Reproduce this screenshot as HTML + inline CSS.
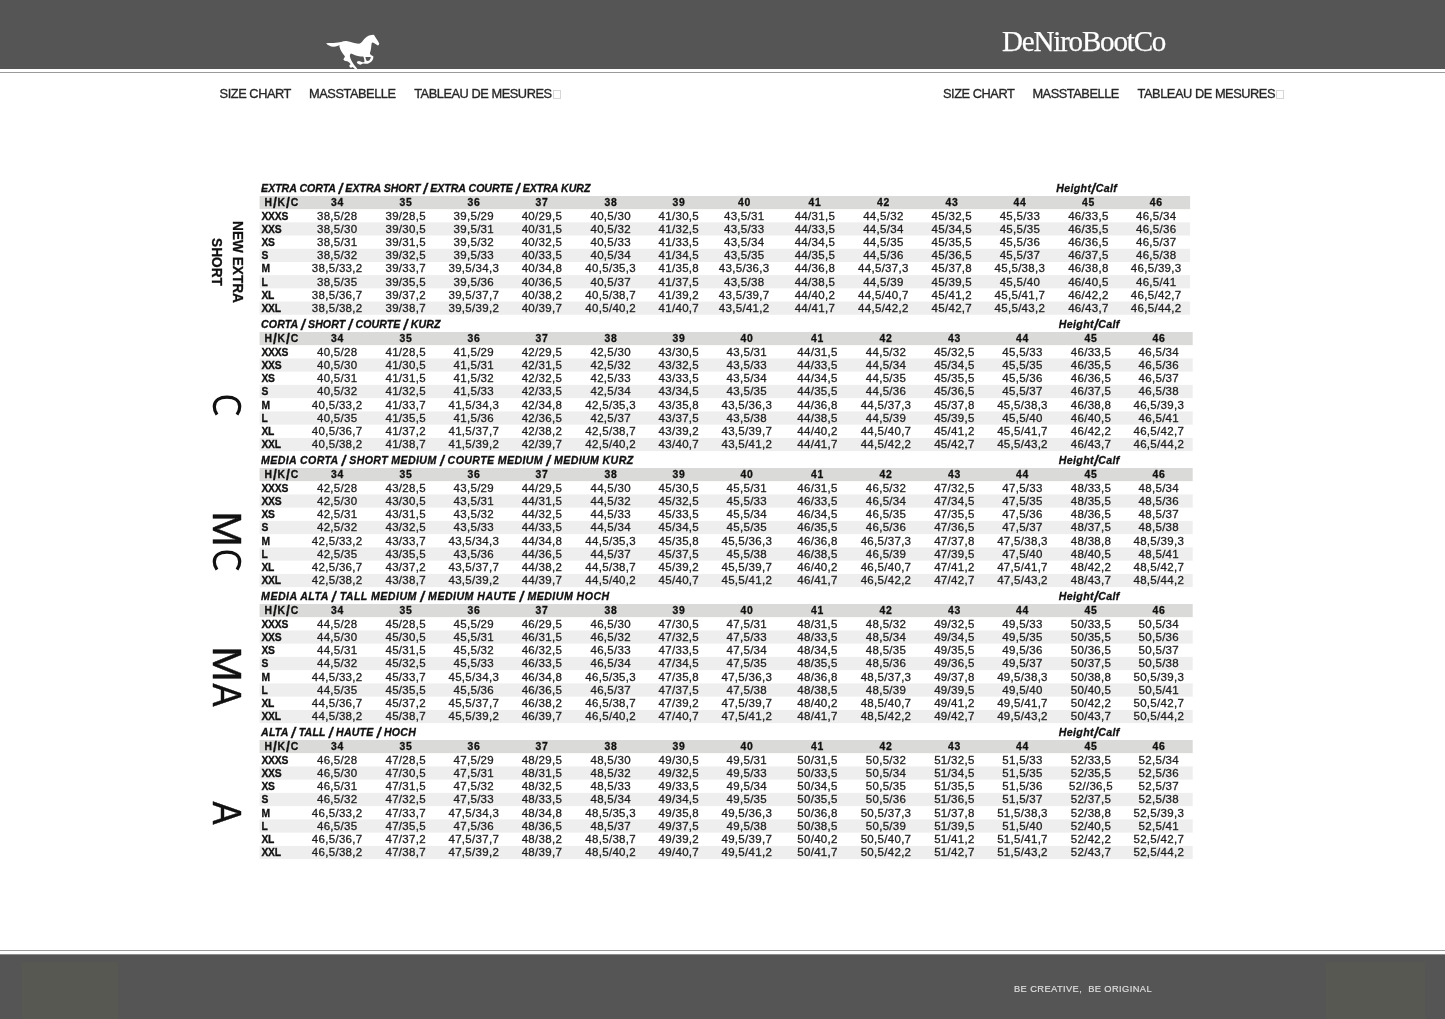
<!DOCTYPE html>
<html lang="en"><head><meta charset="utf-8"><title>DeNiroBootCo - Size Chart</title>
<style>html,body{margin:0;padding:0;background:#fff;}
body{width:1445px;height:1019px;position:relative;overflow:hidden;font-family:"Liberation Sans", sans-serif;color:#1c1c1c;}
.abs,.c,.h,.r,.t,.hc,.hk,.bg{position:absolute;white-space:nowrap;}
.top{left:0;top:0;width:1445px;height:69px;background:#555555;}
.ln{left:0;width:1445px;height:1px;background:#9a9a9a;}
.bot{left:0;top:955px;width:1445px;height:64px;background:#555555;}
.nav{top:86px;font-size:12.8px;line-height:16px;color:#262626;-webkit-text-stroke:.32px #262626;}
.bg{left:259.6px;}
.hb{background:#dadad8;}
.sb{background:#eeeeee;}
.c{width:70px;text-align:center;font-size:11.5px;line-height:13px;letter-spacing:.3px;color:#1e1e1e;-webkit-text-stroke:.3px #1e1e1e;}
.h{width:70px;text-align:center;font-size:10.4px;line-height:13px;font-weight:bold;letter-spacing:.7px;color:#111;-webkit-text-stroke:.3px #111;}
.hk{font-size:10.4px;line-height:13px;font-weight:bold;letter-spacing:.8px;color:#111;-webkit-text-stroke:.3px #111;}
.r{left:261.4px;font-size:10.3px;line-height:13px;font-weight:bold;color:#111;letter-spacing:-.15px;-webkit-text-stroke:.3px #111;}
.t,.hc{font-size:10.6px;line-height:13px;font-weight:bold;font-style:italic;color:#111;-webkit-text-stroke:.3px #111;}
.sl{font-size:135%;position:relative;top:2.4px;line-height:0;font-style:inherit}
.rot{position:absolute;white-space:nowrap;transform-origin:0 0;color:#111;}
</style></head><body><div id="pg" style="position:absolute;left:0;top:0;width:1445px;height:1019px;will-change:transform">
<div class="abs top"></div>
<div class="abs ln" style="top:72px"></div>
<svg class="abs" style="left:320px;top:30px" width="65" height="45" viewBox="320 30 65 45"><path fill="#ffffff" fill-rule="evenodd" d="M326.1,43.3 L329.0,43.0 L333.5,43.0 L338.0,42.6 L341.1,42.1 L343.4,41.2 L346.1,40.9 L348.8,41.5 L351.5,42.2 L354.2,43.0 L356.9,43.6 L359.1,43.7 L360.7,43.0 L362.1,41.8 L363.4,40.1 L365.0,38.3 L366.8,36.7 L369.0,35.6 L371.3,35.0 L373.5,34.7 L374.2,35.2 L375.1,36.7 L376.2,38.5 L377.6,40.6 L378.7,42.4 L379.3,43.7 L378.7,45.1 L377.8,45.5 L376.7,44.8 L375.1,43.7 L373.5,42.7 L372.4,42.4 L371.7,43.0 L371.4,45.3 L371.1,48.0 L370.6,50.7 L369.9,53.2 L370.4,54.5 L371.7,55.4 L373.3,56.3 L373.3,57.9 L372.7,59.7 L371.5,61.5 L369.7,62.8 L367.7,63.7 L365.4,63.8 L363.4,63.5 L361.8,64.1 L360.5,64.7 L358.9,64.3 L357.6,63.5 L356.8,62.5 L357.3,61.5 L358.9,61.0 L360.5,61.5 L362.3,62.2 L363.9,62.2 L364.5,61.5 L364.3,59.7 L363.9,57.9 L363.2,56.5 L360.5,56.5 L357.8,56.1 L355.1,55.2 L352.4,54.1 L351.0,53.4 L350.1,54.5 L349.8,56.1 L350.4,58.3 L351.5,60.8 L352.8,63.1 L354.4,65.3 L356.0,67.3 L357.3,69.0 L356.0,69.0 L354.6,68.8 L353.5,67.8 L352.6,67.0 L351.7,67.6 L350.8,67.8 L349.9,67.1 L349.2,66.0 L349.7,64.9 L350.6,64.3 L349.7,63.1 L348.6,61.9 L347.2,61.3 L345.6,61.0 L344.3,60.4 L343.4,59.5 L344.1,57.9 L345.0,56.8 L344.3,55.4 L342.9,53.8 L341.6,51.8 L340.5,49.8 L339.8,47.8 L339.3,46.0 L339.7,45.1 L338.0,45.7 L335.7,46.6 L333.5,46.7 L331.2,46.4 L329.0,45.5 L327.2,44.4 Z M365.4,57.0 L367.7,56.9 L370.8,57.0 L370.4,58.8 L369.3,60.4 L367.7,61.0 L366.6,60.8 L365.9,59.2 Z"/></svg>
<div class="abs" id="logo" style="left:1002px;top:24px;font-family:'Liberation Serif',serif;font-size:29px;line-height:34px;color:#fff;-webkit-text-stroke:.25px #fff;letter-spacing:-1.17px">DeNiroBootCo</div>
<div class="abs nav" id="nl0" style="left:219.6px;letter-spacing:-0.45px">SIZE CHART</div>
<div class="abs nav" id="nl1" style="left:309.0px;letter-spacing:-0.45px">MASSTABELLE</div>
<div class="abs nav" id="nl2" style="left:414.2px;letter-spacing:-0.45px">TABLEAU DE MESURES</div>
<div class="abs" style="left:553.0px;top:89.8px;width:5.6px;height:7.4px;border:1px solid #d6d6d6"></div>
<div class="abs nav" id="nr0" style="left:943.0px;letter-spacing:-0.45px">SIZE CHART</div>
<div class="abs nav" id="nr1" style="left:1032.4px;letter-spacing:-0.45px">MASSTABELLE</div>
<div class="abs nav" id="nr2" style="left:1137.6px;letter-spacing:-0.45px">TABLEAU DE MESURES</div>
<div class="abs" style="left:1276.4px;top:89.8px;width:5.6px;height:7.4px;border:1px solid #d6d6d6"></div>
<svg class="abs" style="left:0;top:0" width="1445" height="1019" viewBox="0 0 1445 1019"><rect x="259.6" y="196.00" width="930.5" height="13.15" fill="#dadad8"/><rect x="259.6" y="222.35" width="930.5" height="13.20" fill="#eeeeee"/><rect x="259.6" y="248.75" width="930.5" height="13.20" fill="#eeeeee"/><rect x="259.6" y="275.15" width="930.5" height="13.20" fill="#eeeeee"/><rect x="259.6" y="301.55" width="930.5" height="13.20" fill="#eeeeee"/><rect x="259.6" y="332.00" width="933.1" height="13.15" fill="#dadad8"/><rect x="259.6" y="358.40" width="933.1" height="13.25" fill="#eeeeee"/><rect x="259.6" y="384.90" width="933.1" height="13.25" fill="#eeeeee"/><rect x="259.6" y="411.40" width="933.1" height="13.25" fill="#eeeeee"/><rect x="259.6" y="437.90" width="933.1" height="13.25" fill="#eeeeee"/><rect x="259.6" y="468.00" width="933.1" height="13.15" fill="#dadad8"/><rect x="259.6" y="494.40" width="933.1" height="13.25" fill="#eeeeee"/><rect x="259.6" y="520.90" width="933.1" height="13.25" fill="#eeeeee"/><rect x="259.6" y="547.40" width="933.1" height="13.25" fill="#eeeeee"/><rect x="259.6" y="573.90" width="933.1" height="13.25" fill="#eeeeee"/><rect x="259.6" y="604.00" width="933.1" height="13.15" fill="#dadad8"/><rect x="259.6" y="630.40" width="933.1" height="13.25" fill="#eeeeee"/><rect x="259.6" y="656.90" width="933.1" height="13.25" fill="#eeeeee"/><rect x="259.6" y="683.40" width="933.1" height="13.25" fill="#eeeeee"/><rect x="259.6" y="709.90" width="933.1" height="13.25" fill="#eeeeee"/><rect x="259.6" y="740.00" width="933.1" height="13.15" fill="#dadad8"/><rect x="259.6" y="766.40" width="933.1" height="13.25" fill="#eeeeee"/><rect x="259.6" y="792.90" width="933.1" height="13.25" fill="#eeeeee"/><rect x="259.6" y="819.40" width="933.1" height="13.25" fill="#eeeeee"/><rect x="259.6" y="845.90" width="933.1" height="13.25" fill="#eeeeee"/></svg>
<div class="t" id="t0" style="left:261.1px;top:181.6px;letter-spacing:-0.025px">EXTRA CORTA <span class="sl">/</span> EXTRA SHORT <span class="sl">/</span> EXTRA COURTE <span class="sl">/</span> EXTRA KURZ</div>
<div class="hc" id="hc0" style="left:1056.2px;top:181.5px;letter-spacing:0.36px">Height<span class="sl">/</span>Calf</div>
<div class="hk" style="left:264.6px;top:196.1px">H<span class="sl">/</span>K<span class="sl">/</span>C</div>
<div class="h" style="left:302.4px;top:196.1px">34</div><div class="h" style="left:370.9px;top:196.1px">35</div><div class="h" style="left:439.0px;top:196.1px">36</div><div class="h" style="left:507.1px;top:196.1px">37</div><div class="h" style="left:575.9px;top:196.1px">38</div><div class="h" style="left:644.0px;top:196.1px">39</div><div class="h" style="left:709.4px;top:196.1px">40</div><div class="h" style="left:780.0px;top:196.1px">41</div><div class="h" style="left:848.5px;top:196.1px">42</div><div class="h" style="left:917.0px;top:196.1px">43</div><div class="h" style="left:985.0px;top:196.1px">44</div><div class="h" style="left:1053.5px;top:196.1px">45</div><div class="h" style="left:1121.3px;top:196.1px">46</div>
<div class="r" style="top:209.6px">XXXS</div><div class="c" style="left:302.2px;top:209.6px">38,5/28</div><div class="c" style="left:370.7px;top:209.6px">39/28,5</div><div class="c" style="left:438.8px;top:209.6px">39,5/29</div><div class="c" style="left:506.9px;top:209.6px">40/29,5</div><div class="c" style="left:575.7px;top:209.6px">40,5/30</div><div class="c" style="left:643.8px;top:209.6px">41/30,5</div><div class="c" style="left:709.2px;top:209.6px">43,5/31</div><div class="c" style="left:779.9px;top:209.6px">44/31,5</div><div class="c" style="left:848.4px;top:209.6px">44,5/32</div><div class="c" style="left:916.8px;top:209.6px">45/32,5</div><div class="c" style="left:984.9px;top:209.6px">45,5/33</div><div class="c" style="left:1053.4px;top:209.6px">46/33,5</div><div class="c" style="left:1121.2px;top:209.6px">46,5/34</div>
<div class="r" style="top:222.8px">XXS</div><div class="c" style="left:302.2px;top:222.8px">38,5/30</div><div class="c" style="left:370.7px;top:222.8px">39/30,5</div><div class="c" style="left:438.8px;top:222.8px">39,5/31</div><div class="c" style="left:506.9px;top:222.8px">40/31,5</div><div class="c" style="left:575.7px;top:222.8px">40,5/32</div><div class="c" style="left:643.8px;top:222.8px">41/32,5</div><div class="c" style="left:709.2px;top:222.8px">43,5/33</div><div class="c" style="left:779.9px;top:222.8px">44/33,5</div><div class="c" style="left:848.4px;top:222.8px">44,5/34</div><div class="c" style="left:916.8px;top:222.8px">45/34,5</div><div class="c" style="left:984.9px;top:222.8px">45,5/35</div><div class="c" style="left:1053.4px;top:222.8px">46/35,5</div><div class="c" style="left:1121.2px;top:222.8px">46,5/36</div>
<div class="r" style="top:236.0px">XS</div><div class="c" style="left:302.2px;top:236.0px">38,5/31</div><div class="c" style="left:370.7px;top:236.0px">39/31,5</div><div class="c" style="left:438.8px;top:236.0px">39,5/32</div><div class="c" style="left:506.9px;top:236.0px">40/32,5</div><div class="c" style="left:575.7px;top:236.0px">40,5/33</div><div class="c" style="left:643.8px;top:236.0px">41/33,5</div><div class="c" style="left:709.2px;top:236.0px">43,5/34</div><div class="c" style="left:779.9px;top:236.0px">44/34,5</div><div class="c" style="left:848.4px;top:236.0px">44,5/35</div><div class="c" style="left:916.8px;top:236.0px">45/35,5</div><div class="c" style="left:984.9px;top:236.0px">45,5/36</div><div class="c" style="left:1053.4px;top:236.0px">46/36,5</div><div class="c" style="left:1121.2px;top:236.0px">46,5/37</div>
<div class="r" style="top:249.2px">S</div><div class="c" style="left:302.2px;top:249.2px">38,5/32</div><div class="c" style="left:370.7px;top:249.2px">39/32,5</div><div class="c" style="left:438.8px;top:249.2px">39,5/33</div><div class="c" style="left:506.9px;top:249.2px">40/33,5</div><div class="c" style="left:575.7px;top:249.2px">40,5/34</div><div class="c" style="left:643.8px;top:249.2px">41/34,5</div><div class="c" style="left:709.2px;top:249.2px">43,5/35</div><div class="c" style="left:779.9px;top:249.2px">44/35,5</div><div class="c" style="left:848.4px;top:249.2px">44,5/36</div><div class="c" style="left:916.8px;top:249.2px">45/36,5</div><div class="c" style="left:984.9px;top:249.2px">45,5/37</div><div class="c" style="left:1053.4px;top:249.2px">46/37,5</div><div class="c" style="left:1121.2px;top:249.2px">46,5/38</div>
<div class="r" style="top:262.3px">M</div><div class="c" style="left:302.2px;top:262.4px">38,5/33,2</div><div class="c" style="left:370.7px;top:262.4px">39/33,7</div><div class="c" style="left:438.8px;top:262.4px">39,5/34,3</div><div class="c" style="left:506.9px;top:262.4px">40/34,8</div><div class="c" style="left:575.7px;top:262.4px">40,5/35,3</div><div class="c" style="left:643.8px;top:262.4px">41/35,8</div><div class="c" style="left:709.2px;top:262.4px">43,5/36,3</div><div class="c" style="left:779.9px;top:262.4px">44/36,8</div><div class="c" style="left:848.4px;top:262.4px">44,5/37,3</div><div class="c" style="left:916.8px;top:262.4px">45/37,8</div><div class="c" style="left:984.9px;top:262.4px">45,5/38,3</div><div class="c" style="left:1053.4px;top:262.4px">46/38,8</div><div class="c" style="left:1121.2px;top:262.4px">46,5/39,3</div>
<div class="r" style="top:275.5px">L</div><div class="c" style="left:302.2px;top:275.6px">38,5/35</div><div class="c" style="left:370.7px;top:275.6px">39/35,5</div><div class="c" style="left:438.8px;top:275.6px">39,5/36</div><div class="c" style="left:506.9px;top:275.6px">40/36,5</div><div class="c" style="left:575.7px;top:275.6px">40,5/37</div><div class="c" style="left:643.8px;top:275.6px">41/37,5</div><div class="c" style="left:709.2px;top:275.6px">43,5/38</div><div class="c" style="left:779.9px;top:275.6px">44/38,5</div><div class="c" style="left:848.4px;top:275.6px">44,5/39</div><div class="c" style="left:916.8px;top:275.6px">45/39,5</div><div class="c" style="left:984.9px;top:275.6px">45,5/40</div><div class="c" style="left:1053.4px;top:275.6px">46/40,5</div><div class="c" style="left:1121.2px;top:275.6px">46,5/41</div>
<div class="r" style="top:288.8px">XL</div><div class="c" style="left:302.2px;top:288.8px">38,5/36,7</div><div class="c" style="left:370.7px;top:288.8px">39/37,2</div><div class="c" style="left:438.8px;top:288.8px">39,5/37,7</div><div class="c" style="left:506.9px;top:288.8px">40/38,2</div><div class="c" style="left:575.7px;top:288.8px">40,5/38,7</div><div class="c" style="left:643.8px;top:288.8px">41/39,2</div><div class="c" style="left:709.2px;top:288.8px">43,5/39,7</div><div class="c" style="left:779.9px;top:288.8px">44/40,2</div><div class="c" style="left:848.4px;top:288.8px">44,5/40,7</div><div class="c" style="left:916.8px;top:288.8px">45/41,2</div><div class="c" style="left:984.9px;top:288.8px">45,5/41,7</div><div class="c" style="left:1053.4px;top:288.8px">46/42,2</div><div class="c" style="left:1121.2px;top:288.8px">46,5/42,7</div>
<div class="r" style="top:301.9px">XXL</div><div class="c" style="left:302.2px;top:302.0px">38,5/38,2</div><div class="c" style="left:370.7px;top:302.0px">39/38,7</div><div class="c" style="left:438.8px;top:302.0px">39,5/39,2</div><div class="c" style="left:506.9px;top:302.0px">40/39,7</div><div class="c" style="left:575.7px;top:302.0px">40,5/40,2</div><div class="c" style="left:643.8px;top:302.0px">41/40,7</div><div class="c" style="left:709.2px;top:302.0px">43,5/41,2</div><div class="c" style="left:779.9px;top:302.0px">44/41,7</div><div class="c" style="left:848.4px;top:302.0px">44,5/42,2</div><div class="c" style="left:916.8px;top:302.0px">45/42,7</div><div class="c" style="left:984.9px;top:302.0px">45,5/43,2</div><div class="c" style="left:1053.4px;top:302.0px">46/43,7</div><div class="c" style="left:1121.2px;top:302.0px">46,5/44,2</div>
<div class="t" id="t1" style="left:261.1px;top:317.6px;letter-spacing:0.09px">CORTA <span class="sl">/</span> SHORT <span class="sl">/</span> COURTE <span class="sl">/</span> KURZ</div>
<div class="hc" id="hc1" style="left:1058.8px;top:317.5px;letter-spacing:0.36px">Height<span class="sl">/</span>Calf</div>
<div class="hk" style="left:264.6px;top:332.1px">H<span class="sl">/</span>K<span class="sl">/</span>C</div>
<div class="h" style="left:302.4px;top:332.1px">34</div><div class="h" style="left:370.9px;top:332.1px">35</div><div class="h" style="left:439.0px;top:332.1px">36</div><div class="h" style="left:507.1px;top:332.1px">37</div><div class="h" style="left:575.9px;top:332.1px">38</div><div class="h" style="left:644.0px;top:332.1px">39</div><div class="h" style="left:712.0px;top:332.1px">40</div><div class="h" style="left:782.6px;top:332.1px">41</div><div class="h" style="left:851.1px;top:332.1px">42</div><div class="h" style="left:919.6px;top:332.1px">43</div><div class="h" style="left:987.6px;top:332.1px">44</div><div class="h" style="left:1056.1px;top:332.1px">45</div><div class="h" style="left:1123.9px;top:332.1px">46</div>
<div class="r" style="top:345.5px">XXXS</div><div class="c" style="left:302.2px;top:345.6px">40,5/28</div><div class="c" style="left:370.7px;top:345.6px">41/28,5</div><div class="c" style="left:438.8px;top:345.6px">41,5/29</div><div class="c" style="left:506.9px;top:345.6px">42/29,5</div><div class="c" style="left:575.7px;top:345.6px">42,5/30</div><div class="c" style="left:643.8px;top:345.6px">43/30,5</div><div class="c" style="left:711.8px;top:345.6px">43,5/31</div><div class="c" style="left:782.5px;top:345.6px">44/31,5</div><div class="c" style="left:851.0px;top:345.6px">44,5/32</div><div class="c" style="left:919.4px;top:345.6px">45/32,5</div><div class="c" style="left:987.5px;top:345.6px">45,5/33</div><div class="c" style="left:1056.0px;top:345.6px">46/33,5</div><div class="c" style="left:1123.8px;top:345.6px">46,5/34</div>
<div class="r" style="top:358.8px">XXS</div><div class="c" style="left:302.2px;top:358.8px">40,5/30</div><div class="c" style="left:370.7px;top:358.8px">41/30,5</div><div class="c" style="left:438.8px;top:358.8px">41,5/31</div><div class="c" style="left:506.9px;top:358.8px">42/31,5</div><div class="c" style="left:575.7px;top:358.8px">42,5/32</div><div class="c" style="left:643.8px;top:358.8px">43/32,5</div><div class="c" style="left:711.8px;top:358.8px">43,5/33</div><div class="c" style="left:782.5px;top:358.8px">44/33,5</div><div class="c" style="left:851.0px;top:358.8px">44,5/34</div><div class="c" style="left:919.4px;top:358.8px">45/34,5</div><div class="c" style="left:987.5px;top:358.8px">45,5/35</div><div class="c" style="left:1056.0px;top:358.8px">46/35,5</div><div class="c" style="left:1123.8px;top:358.8px">46,5/36</div>
<div class="r" style="top:372.0px">XS</div><div class="c" style="left:302.2px;top:372.1px">40,5/31</div><div class="c" style="left:370.7px;top:372.1px">41/31,5</div><div class="c" style="left:438.8px;top:372.1px">41,5/32</div><div class="c" style="left:506.9px;top:372.1px">42/32,5</div><div class="c" style="left:575.7px;top:372.1px">42,5/33</div><div class="c" style="left:643.8px;top:372.1px">43/33,5</div><div class="c" style="left:711.8px;top:372.1px">43,5/34</div><div class="c" style="left:782.5px;top:372.1px">44/34,5</div><div class="c" style="left:851.0px;top:372.1px">44,5/35</div><div class="c" style="left:919.4px;top:372.1px">45/35,5</div><div class="c" style="left:987.5px;top:372.1px">45,5/36</div><div class="c" style="left:1056.0px;top:372.1px">46/36,5</div><div class="c" style="left:1123.8px;top:372.1px">46,5/37</div>
<div class="r" style="top:385.3px">S</div><div class="c" style="left:302.2px;top:385.3px">40,5/32</div><div class="c" style="left:370.7px;top:385.3px">41/32,5</div><div class="c" style="left:438.8px;top:385.3px">41,5/33</div><div class="c" style="left:506.9px;top:385.3px">42/33,5</div><div class="c" style="left:575.7px;top:385.3px">42,5/34</div><div class="c" style="left:643.8px;top:385.3px">43/34,5</div><div class="c" style="left:711.8px;top:385.3px">43,5/35</div><div class="c" style="left:782.5px;top:385.3px">44/35,5</div><div class="c" style="left:851.0px;top:385.3px">44,5/36</div><div class="c" style="left:919.4px;top:385.3px">45/36,5</div><div class="c" style="left:987.5px;top:385.3px">45,5/37</div><div class="c" style="left:1056.0px;top:385.3px">46/37,5</div><div class="c" style="left:1123.8px;top:385.3px">46,5/38</div>
<div class="r" style="top:398.5px">M</div><div class="c" style="left:302.2px;top:398.6px">40,5/33,2</div><div class="c" style="left:370.7px;top:398.6px">41/33,7</div><div class="c" style="left:438.8px;top:398.6px">41,5/34,3</div><div class="c" style="left:506.9px;top:398.6px">42/34,8</div><div class="c" style="left:575.7px;top:398.6px">42,5/35,3</div><div class="c" style="left:643.8px;top:398.6px">43/35,8</div><div class="c" style="left:711.8px;top:398.6px">43,5/36,3</div><div class="c" style="left:782.5px;top:398.6px">44/36,8</div><div class="c" style="left:851.0px;top:398.6px">44,5/37,3</div><div class="c" style="left:919.4px;top:398.6px">45/37,8</div><div class="c" style="left:987.5px;top:398.6px">45,5/38,3</div><div class="c" style="left:1056.0px;top:398.6px">46/38,8</div><div class="c" style="left:1123.8px;top:398.6px">46,5/39,3</div>
<div class="r" style="top:411.8px">L</div><div class="c" style="left:302.2px;top:411.8px">40,5/35</div><div class="c" style="left:370.7px;top:411.8px">41/35,5</div><div class="c" style="left:438.8px;top:411.8px">41,5/36</div><div class="c" style="left:506.9px;top:411.8px">42/36,5</div><div class="c" style="left:575.7px;top:411.8px">42,5/37</div><div class="c" style="left:643.8px;top:411.8px">43/37,5</div><div class="c" style="left:711.8px;top:411.8px">43,5/38</div><div class="c" style="left:782.5px;top:411.8px">44/38,5</div><div class="c" style="left:851.0px;top:411.8px">44,5/39</div><div class="c" style="left:919.4px;top:411.8px">45/39,5</div><div class="c" style="left:987.5px;top:411.8px">45,5/40</div><div class="c" style="left:1056.0px;top:411.8px">46/40,5</div><div class="c" style="left:1123.8px;top:411.8px">46,5/41</div>
<div class="r" style="top:425.0px">XL</div><div class="c" style="left:302.2px;top:425.1px">40,5/36,7</div><div class="c" style="left:370.7px;top:425.1px">41/37,2</div><div class="c" style="left:438.8px;top:425.1px">41,5/37,7</div><div class="c" style="left:506.9px;top:425.1px">42/38,2</div><div class="c" style="left:575.7px;top:425.1px">42,5/38,7</div><div class="c" style="left:643.8px;top:425.1px">43/39,2</div><div class="c" style="left:711.8px;top:425.1px">43,5/39,7</div><div class="c" style="left:782.5px;top:425.1px">44/40,2</div><div class="c" style="left:851.0px;top:425.1px">44,5/40,7</div><div class="c" style="left:919.4px;top:425.1px">45/41,2</div><div class="c" style="left:987.5px;top:425.1px">45,5/41,7</div><div class="c" style="left:1056.0px;top:425.1px">46/42,2</div><div class="c" style="left:1123.8px;top:425.1px">46,5/42,7</div>
<div class="r" style="top:438.3px">XXL</div><div class="c" style="left:302.2px;top:438.3px">40,5/38,2</div><div class="c" style="left:370.7px;top:438.3px">41/38,7</div><div class="c" style="left:438.8px;top:438.3px">41,5/39,2</div><div class="c" style="left:506.9px;top:438.3px">42/39,7</div><div class="c" style="left:575.7px;top:438.3px">42,5/40,2</div><div class="c" style="left:643.8px;top:438.3px">43/40,7</div><div class="c" style="left:711.8px;top:438.3px">43,5/41,2</div><div class="c" style="left:782.5px;top:438.3px">44/41,7</div><div class="c" style="left:851.0px;top:438.3px">44,5/42,2</div><div class="c" style="left:919.4px;top:438.3px">45/42,7</div><div class="c" style="left:987.5px;top:438.3px">45,5/43,2</div><div class="c" style="left:1056.0px;top:438.3px">46/43,7</div><div class="c" style="left:1123.8px;top:438.3px">46,5/44,2</div>
<div class="t" id="t2" style="left:261.1px;top:453.6px;letter-spacing:0.38px">MEDIA CORTA <span class="sl">/</span> SHORT MEDIUM <span class="sl">/</span> COURTE MEDIUM <span class="sl">/</span> MEDIUM KURZ</div>
<div class="hc" id="hc2" style="left:1058.8px;top:453.5px;letter-spacing:0.36px">Height<span class="sl">/</span>Calf</div>
<div class="hk" style="left:264.6px;top:468.1px">H<span class="sl">/</span>K<span class="sl">/</span>C</div>
<div class="h" style="left:302.4px;top:468.1px">34</div><div class="h" style="left:370.9px;top:468.1px">35</div><div class="h" style="left:439.0px;top:468.1px">36</div><div class="h" style="left:507.1px;top:468.1px">37</div><div class="h" style="left:575.9px;top:468.1px">38</div><div class="h" style="left:644.0px;top:468.1px">39</div><div class="h" style="left:712.0px;top:468.1px">40</div><div class="h" style="left:782.6px;top:468.1px">41</div><div class="h" style="left:851.1px;top:468.1px">42</div><div class="h" style="left:919.6px;top:468.1px">43</div><div class="h" style="left:987.6px;top:468.1px">44</div><div class="h" style="left:1056.1px;top:468.1px">45</div><div class="h" style="left:1123.9px;top:468.1px">46</div>
<div class="r" style="top:481.5px">XXXS</div><div class="c" style="left:302.2px;top:481.6px">42,5/28</div><div class="c" style="left:370.7px;top:481.6px">43/28,5</div><div class="c" style="left:438.8px;top:481.6px">43,5/29</div><div class="c" style="left:506.9px;top:481.6px">44/29,5</div><div class="c" style="left:575.7px;top:481.6px">44,5/30</div><div class="c" style="left:643.8px;top:481.6px">45/30,5</div><div class="c" style="left:711.8px;top:481.6px">45,5/31</div><div class="c" style="left:782.5px;top:481.6px">46/31,5</div><div class="c" style="left:851.0px;top:481.6px">46,5/32</div><div class="c" style="left:919.4px;top:481.6px">47/32,5</div><div class="c" style="left:987.5px;top:481.6px">47,5/33</div><div class="c" style="left:1056.0px;top:481.6px">48/33,5</div><div class="c" style="left:1123.8px;top:481.6px">48,5/34</div>
<div class="r" style="top:494.8px">XXS</div><div class="c" style="left:302.2px;top:494.8px">42,5/30</div><div class="c" style="left:370.7px;top:494.8px">43/30,5</div><div class="c" style="left:438.8px;top:494.8px">43,5/31</div><div class="c" style="left:506.9px;top:494.8px">44/31,5</div><div class="c" style="left:575.7px;top:494.8px">44,5/32</div><div class="c" style="left:643.8px;top:494.8px">45/32,5</div><div class="c" style="left:711.8px;top:494.8px">45,5/33</div><div class="c" style="left:782.5px;top:494.8px">46/33,5</div><div class="c" style="left:851.0px;top:494.8px">46,5/34</div><div class="c" style="left:919.4px;top:494.8px">47/34,5</div><div class="c" style="left:987.5px;top:494.8px">47,5/35</div><div class="c" style="left:1056.0px;top:494.8px">48/35,5</div><div class="c" style="left:1123.8px;top:494.8px">48,5/36</div>
<div class="r" style="top:508.0px">XS</div><div class="c" style="left:302.2px;top:508.1px">42,5/31</div><div class="c" style="left:370.7px;top:508.1px">43/31,5</div><div class="c" style="left:438.8px;top:508.1px">43,5/32</div><div class="c" style="left:506.9px;top:508.1px">44/32,5</div><div class="c" style="left:575.7px;top:508.1px">44,5/33</div><div class="c" style="left:643.8px;top:508.1px">45/33,5</div><div class="c" style="left:711.8px;top:508.1px">45,5/34</div><div class="c" style="left:782.5px;top:508.1px">46/34,5</div><div class="c" style="left:851.0px;top:508.1px">46,5/35</div><div class="c" style="left:919.4px;top:508.1px">47/35,5</div><div class="c" style="left:987.5px;top:508.1px">47,5/36</div><div class="c" style="left:1056.0px;top:508.1px">48/36,5</div><div class="c" style="left:1123.8px;top:508.1px">48,5/37</div>
<div class="r" style="top:521.3px">S</div><div class="c" style="left:302.2px;top:521.4px">42,5/32</div><div class="c" style="left:370.7px;top:521.4px">43/32,5</div><div class="c" style="left:438.8px;top:521.4px">43,5/33</div><div class="c" style="left:506.9px;top:521.4px">44/33,5</div><div class="c" style="left:575.7px;top:521.4px">44,5/34</div><div class="c" style="left:643.8px;top:521.4px">45/34,5</div><div class="c" style="left:711.8px;top:521.4px">45,5/35</div><div class="c" style="left:782.5px;top:521.4px">46/35,5</div><div class="c" style="left:851.0px;top:521.4px">46,5/36</div><div class="c" style="left:919.4px;top:521.4px">47/36,5</div><div class="c" style="left:987.5px;top:521.4px">47,5/37</div><div class="c" style="left:1056.0px;top:521.4px">48/37,5</div><div class="c" style="left:1123.8px;top:521.4px">48,5/38</div>
<div class="r" style="top:534.5px">M</div><div class="c" style="left:302.2px;top:534.6px">42,5/33,2</div><div class="c" style="left:370.7px;top:534.6px">43/33,7</div><div class="c" style="left:438.8px;top:534.6px">43,5/34,3</div><div class="c" style="left:506.9px;top:534.6px">44/34,8</div><div class="c" style="left:575.7px;top:534.6px">44,5/35,3</div><div class="c" style="left:643.8px;top:534.6px">45/35,8</div><div class="c" style="left:711.8px;top:534.6px">45,5/36,3</div><div class="c" style="left:782.5px;top:534.6px">46/36,8</div><div class="c" style="left:851.0px;top:534.6px">46,5/37,3</div><div class="c" style="left:919.4px;top:534.6px">47/37,8</div><div class="c" style="left:987.5px;top:534.6px">47,5/38,3</div><div class="c" style="left:1056.0px;top:534.6px">48/38,8</div><div class="c" style="left:1123.8px;top:534.6px">48,5/39,3</div>
<div class="r" style="top:547.8px">L</div><div class="c" style="left:302.2px;top:547.9px">42,5/35</div><div class="c" style="left:370.7px;top:547.9px">43/35,5</div><div class="c" style="left:438.8px;top:547.9px">43,5/36</div><div class="c" style="left:506.9px;top:547.9px">44/36,5</div><div class="c" style="left:575.7px;top:547.9px">44,5/37</div><div class="c" style="left:643.8px;top:547.9px">45/37,5</div><div class="c" style="left:711.8px;top:547.9px">45,5/38</div><div class="c" style="left:782.5px;top:547.9px">46/38,5</div><div class="c" style="left:851.0px;top:547.9px">46,5/39</div><div class="c" style="left:919.4px;top:547.9px">47/39,5</div><div class="c" style="left:987.5px;top:547.9px">47,5/40</div><div class="c" style="left:1056.0px;top:547.9px">48/40,5</div><div class="c" style="left:1123.8px;top:547.9px">48,5/41</div>
<div class="r" style="top:561.0px">XL</div><div class="c" style="left:302.2px;top:561.1px">42,5/36,7</div><div class="c" style="left:370.7px;top:561.1px">43/37,2</div><div class="c" style="left:438.8px;top:561.1px">43,5/37,7</div><div class="c" style="left:506.9px;top:561.1px">44/38,2</div><div class="c" style="left:575.7px;top:561.1px">44,5/38,7</div><div class="c" style="left:643.8px;top:561.1px">45/39,2</div><div class="c" style="left:711.8px;top:561.1px">45,5/39,7</div><div class="c" style="left:782.5px;top:561.1px">46/40,2</div><div class="c" style="left:851.0px;top:561.1px">46,5/40,7</div><div class="c" style="left:919.4px;top:561.1px">47/41,2</div><div class="c" style="left:987.5px;top:561.1px">47,5/41,7</div><div class="c" style="left:1056.0px;top:561.1px">48/42,2</div><div class="c" style="left:1123.8px;top:561.1px">48,5/42,7</div>
<div class="r" style="top:574.3px">XXL</div><div class="c" style="left:302.2px;top:574.4px">42,5/38,2</div><div class="c" style="left:370.7px;top:574.4px">43/38,7</div><div class="c" style="left:438.8px;top:574.4px">43,5/39,2</div><div class="c" style="left:506.9px;top:574.4px">44/39,7</div><div class="c" style="left:575.7px;top:574.4px">44,5/40,2</div><div class="c" style="left:643.8px;top:574.4px">45/40,7</div><div class="c" style="left:711.8px;top:574.4px">45,5/41,2</div><div class="c" style="left:782.5px;top:574.4px">46/41,7</div><div class="c" style="left:851.0px;top:574.4px">46,5/42,2</div><div class="c" style="left:919.4px;top:574.4px">47/42,7</div><div class="c" style="left:987.5px;top:574.4px">47,5/43,2</div><div class="c" style="left:1056.0px;top:574.4px">48/43,7</div><div class="c" style="left:1123.8px;top:574.4px">48,5/44,2</div>
<div class="t" id="t3" style="left:261.1px;top:589.6px;letter-spacing:0.47px">MEDIA ALTA <span class="sl">/</span> TALL MEDIUM <span class="sl">/</span> MEDIUM HAUTE <span class="sl">/</span> MEDIUM HOCH</div>
<div class="hc" id="hc3" style="left:1058.8px;top:589.5px;letter-spacing:0.36px">Height<span class="sl">/</span>Calf</div>
<div class="hk" style="left:264.6px;top:604.1px">H<span class="sl">/</span>K<span class="sl">/</span>C</div>
<div class="h" style="left:302.4px;top:604.1px">34</div><div class="h" style="left:370.9px;top:604.1px">35</div><div class="h" style="left:439.0px;top:604.1px">36</div><div class="h" style="left:507.1px;top:604.1px">37</div><div class="h" style="left:575.9px;top:604.1px">38</div><div class="h" style="left:644.0px;top:604.1px">39</div><div class="h" style="left:712.0px;top:604.1px">40</div><div class="h" style="left:782.6px;top:604.1px">41</div><div class="h" style="left:851.1px;top:604.1px">42</div><div class="h" style="left:919.6px;top:604.1px">43</div><div class="h" style="left:987.6px;top:604.1px">44</div><div class="h" style="left:1056.1px;top:604.1px">45</div><div class="h" style="left:1123.9px;top:604.1px">46</div>
<div class="r" style="top:617.5px">XXXS</div><div class="c" style="left:302.2px;top:617.6px">44,5/28</div><div class="c" style="left:370.7px;top:617.6px">45/28,5</div><div class="c" style="left:438.8px;top:617.6px">45,5/29</div><div class="c" style="left:506.9px;top:617.6px">46/29,5</div><div class="c" style="left:575.7px;top:617.6px">46,5/30</div><div class="c" style="left:643.8px;top:617.6px">47/30,5</div><div class="c" style="left:711.8px;top:617.6px">47,5/31</div><div class="c" style="left:782.5px;top:617.6px">48/31,5</div><div class="c" style="left:851.0px;top:617.6px">48,5/32</div><div class="c" style="left:919.4px;top:617.6px">49/32,5</div><div class="c" style="left:987.5px;top:617.6px">49,5/33</div><div class="c" style="left:1056.0px;top:617.6px">50/33,5</div><div class="c" style="left:1123.8px;top:617.6px">50,5/34</div>
<div class="r" style="top:630.8px">XXS</div><div class="c" style="left:302.2px;top:630.9px">44,5/30</div><div class="c" style="left:370.7px;top:630.9px">45/30,5</div><div class="c" style="left:438.8px;top:630.9px">45,5/31</div><div class="c" style="left:506.9px;top:630.9px">46/31,5</div><div class="c" style="left:575.7px;top:630.9px">46,5/32</div><div class="c" style="left:643.8px;top:630.9px">47/32,5</div><div class="c" style="left:711.8px;top:630.9px">47,5/33</div><div class="c" style="left:782.5px;top:630.9px">48/33,5</div><div class="c" style="left:851.0px;top:630.9px">48,5/34</div><div class="c" style="left:919.4px;top:630.9px">49/34,5</div><div class="c" style="left:987.5px;top:630.9px">49,5/35</div><div class="c" style="left:1056.0px;top:630.9px">50/35,5</div><div class="c" style="left:1123.8px;top:630.9px">50,5/36</div>
<div class="r" style="top:644.0px">XS</div><div class="c" style="left:302.2px;top:644.1px">44,5/31</div><div class="c" style="left:370.7px;top:644.1px">45/31,5</div><div class="c" style="left:438.8px;top:644.1px">45,5/32</div><div class="c" style="left:506.9px;top:644.1px">46/32,5</div><div class="c" style="left:575.7px;top:644.1px">46,5/33</div><div class="c" style="left:643.8px;top:644.1px">47/33,5</div><div class="c" style="left:711.8px;top:644.1px">47,5/34</div><div class="c" style="left:782.5px;top:644.1px">48/34,5</div><div class="c" style="left:851.0px;top:644.1px">48,5/35</div><div class="c" style="left:919.4px;top:644.1px">49/35,5</div><div class="c" style="left:987.5px;top:644.1px">49,5/36</div><div class="c" style="left:1056.0px;top:644.1px">50/36,5</div><div class="c" style="left:1123.8px;top:644.1px">50,5/37</div>
<div class="r" style="top:657.3px">S</div><div class="c" style="left:302.2px;top:657.4px">44,5/32</div><div class="c" style="left:370.7px;top:657.4px">45/32,5</div><div class="c" style="left:438.8px;top:657.4px">45,5/33</div><div class="c" style="left:506.9px;top:657.4px">46/33,5</div><div class="c" style="left:575.7px;top:657.4px">46,5/34</div><div class="c" style="left:643.8px;top:657.4px">47/34,5</div><div class="c" style="left:711.8px;top:657.4px">47,5/35</div><div class="c" style="left:782.5px;top:657.4px">48/35,5</div><div class="c" style="left:851.0px;top:657.4px">48,5/36</div><div class="c" style="left:919.4px;top:657.4px">49/36,5</div><div class="c" style="left:987.5px;top:657.4px">49,5/37</div><div class="c" style="left:1056.0px;top:657.4px">50/37,5</div><div class="c" style="left:1123.8px;top:657.4px">50,5/38</div>
<div class="r" style="top:670.5px">M</div><div class="c" style="left:302.2px;top:670.6px">44,5/33,2</div><div class="c" style="left:370.7px;top:670.6px">45/33,7</div><div class="c" style="left:438.8px;top:670.6px">45,5/34,3</div><div class="c" style="left:506.9px;top:670.6px">46/34,8</div><div class="c" style="left:575.7px;top:670.6px">46,5/35,3</div><div class="c" style="left:643.8px;top:670.6px">47/35,8</div><div class="c" style="left:711.8px;top:670.6px">47,5/36,3</div><div class="c" style="left:782.5px;top:670.6px">48/36,8</div><div class="c" style="left:851.0px;top:670.6px">48,5/37,3</div><div class="c" style="left:919.4px;top:670.6px">49/37,8</div><div class="c" style="left:987.5px;top:670.6px">49,5/38,3</div><div class="c" style="left:1056.0px;top:670.6px">50/38,8</div><div class="c" style="left:1123.8px;top:670.6px">50,5/39,3</div>
<div class="r" style="top:683.8px">L</div><div class="c" style="left:302.2px;top:683.9px">44,5/35</div><div class="c" style="left:370.7px;top:683.9px">45/35,5</div><div class="c" style="left:438.8px;top:683.9px">45,5/36</div><div class="c" style="left:506.9px;top:683.9px">46/36,5</div><div class="c" style="left:575.7px;top:683.9px">46,5/37</div><div class="c" style="left:643.8px;top:683.9px">47/37,5</div><div class="c" style="left:711.8px;top:683.9px">47,5/38</div><div class="c" style="left:782.5px;top:683.9px">48/38,5</div><div class="c" style="left:851.0px;top:683.9px">48,5/39</div><div class="c" style="left:919.4px;top:683.9px">49/39,5</div><div class="c" style="left:987.5px;top:683.9px">49,5/40</div><div class="c" style="left:1056.0px;top:683.9px">50/40,5</div><div class="c" style="left:1123.8px;top:683.9px">50,5/41</div>
<div class="r" style="top:697.0px">XL</div><div class="c" style="left:302.2px;top:697.1px">44,5/36,7</div><div class="c" style="left:370.7px;top:697.1px">45/37,2</div><div class="c" style="left:438.8px;top:697.1px">45,5/37,7</div><div class="c" style="left:506.9px;top:697.1px">46/38,2</div><div class="c" style="left:575.7px;top:697.1px">46,5/38,7</div><div class="c" style="left:643.8px;top:697.1px">47/39,2</div><div class="c" style="left:711.8px;top:697.1px">47,5/39,7</div><div class="c" style="left:782.5px;top:697.1px">48/40,2</div><div class="c" style="left:851.0px;top:697.1px">48,5/40,7</div><div class="c" style="left:919.4px;top:697.1px">49/41,2</div><div class="c" style="left:987.5px;top:697.1px">49,5/41,7</div><div class="c" style="left:1056.0px;top:697.1px">50/42,2</div><div class="c" style="left:1123.8px;top:697.1px">50,5/42,7</div>
<div class="r" style="top:710.3px">XXL</div><div class="c" style="left:302.2px;top:710.4px">44,5/38,2</div><div class="c" style="left:370.7px;top:710.4px">45/38,7</div><div class="c" style="left:438.8px;top:710.4px">45,5/39,2</div><div class="c" style="left:506.9px;top:710.4px">46/39,7</div><div class="c" style="left:575.7px;top:710.4px">46,5/40,2</div><div class="c" style="left:643.8px;top:710.4px">47/40,7</div><div class="c" style="left:711.8px;top:710.4px">47,5/41,2</div><div class="c" style="left:782.5px;top:710.4px">48/41,7</div><div class="c" style="left:851.0px;top:710.4px">48,5/42,2</div><div class="c" style="left:919.4px;top:710.4px">49/42,7</div><div class="c" style="left:987.5px;top:710.4px">49,5/43,2</div><div class="c" style="left:1056.0px;top:710.4px">50/43,7</div><div class="c" style="left:1123.8px;top:710.4px">50,5/44,2</div>
<div class="t" id="t4" style="left:261.1px;top:725.6px;letter-spacing:0.20px">ALTA <span class="sl">/</span> TALL <span class="sl">/</span> HAUTE <span class="sl">/</span> HOCH</div>
<div class="hc" id="hc4" style="left:1058.8px;top:725.5px;letter-spacing:0.36px">Height<span class="sl">/</span>Calf</div>
<div class="hk" style="left:264.6px;top:740.1px">H<span class="sl">/</span>K<span class="sl">/</span>C</div>
<div class="h" style="left:302.4px;top:740.1px">34</div><div class="h" style="left:370.9px;top:740.1px">35</div><div class="h" style="left:439.0px;top:740.1px">36</div><div class="h" style="left:507.1px;top:740.1px">37</div><div class="h" style="left:575.9px;top:740.1px">38</div><div class="h" style="left:644.0px;top:740.1px">39</div><div class="h" style="left:712.0px;top:740.1px">40</div><div class="h" style="left:782.6px;top:740.1px">41</div><div class="h" style="left:851.1px;top:740.1px">42</div><div class="h" style="left:919.6px;top:740.1px">43</div><div class="h" style="left:987.6px;top:740.1px">44</div><div class="h" style="left:1056.1px;top:740.1px">45</div><div class="h" style="left:1123.9px;top:740.1px">46</div>
<div class="r" style="top:753.5px">XXXS</div><div class="c" style="left:302.2px;top:753.6px">46,5/28</div><div class="c" style="left:370.7px;top:753.6px">47/28,5</div><div class="c" style="left:438.8px;top:753.6px">47,5/29</div><div class="c" style="left:506.9px;top:753.6px">48/29,5</div><div class="c" style="left:575.7px;top:753.6px">48,5/30</div><div class="c" style="left:643.8px;top:753.6px">49/30,5</div><div class="c" style="left:711.8px;top:753.6px">49,5/31</div><div class="c" style="left:782.5px;top:753.6px">50/31,5</div><div class="c" style="left:851.0px;top:753.6px">50,5/32</div><div class="c" style="left:919.4px;top:753.6px">51/32,5</div><div class="c" style="left:987.5px;top:753.6px">51,5/33</div><div class="c" style="left:1056.0px;top:753.6px">52/33,5</div><div class="c" style="left:1123.8px;top:753.6px">52,5/34</div>
<div class="r" style="top:766.8px">XXS</div><div class="c" style="left:302.2px;top:766.9px">46,5/30</div><div class="c" style="left:370.7px;top:766.9px">47/30,5</div><div class="c" style="left:438.8px;top:766.9px">47,5/31</div><div class="c" style="left:506.9px;top:766.9px">48/31,5</div><div class="c" style="left:575.7px;top:766.9px">48,5/32</div><div class="c" style="left:643.8px;top:766.9px">49/32,5</div><div class="c" style="left:711.8px;top:766.9px">49,5/33</div><div class="c" style="left:782.5px;top:766.9px">50/33,5</div><div class="c" style="left:851.0px;top:766.9px">50,5/34</div><div class="c" style="left:919.4px;top:766.9px">51/34,5</div><div class="c" style="left:987.5px;top:766.9px">51,5/35</div><div class="c" style="left:1056.0px;top:766.9px">52/35,5</div><div class="c" style="left:1123.8px;top:766.9px">52,5/36</div>
<div class="r" style="top:780.0px">XS</div><div class="c" style="left:302.2px;top:780.1px">46,5/31</div><div class="c" style="left:370.7px;top:780.1px">47/31,5</div><div class="c" style="left:438.8px;top:780.1px">47,5/32</div><div class="c" style="left:506.9px;top:780.1px">48/32,5</div><div class="c" style="left:575.7px;top:780.1px">48,5/33</div><div class="c" style="left:643.8px;top:780.1px">49/33,5</div><div class="c" style="left:711.8px;top:780.1px">49,5/34</div><div class="c" style="left:782.5px;top:780.1px">50/34,5</div><div class="c" style="left:851.0px;top:780.1px">50,5/35</div><div class="c" style="left:919.4px;top:780.1px">51/35,5</div><div class="c" style="left:987.5px;top:780.1px">51,5/36</div><div class="c" style="left:1056.0px;top:780.1px">52//36,5</div><div class="c" style="left:1123.8px;top:780.1px">52,5/37</div>
<div class="r" style="top:793.3px">S</div><div class="c" style="left:302.2px;top:793.4px">46,5/32</div><div class="c" style="left:370.7px;top:793.4px">47/32,5</div><div class="c" style="left:438.8px;top:793.4px">47,5/33</div><div class="c" style="left:506.9px;top:793.4px">48/33,5</div><div class="c" style="left:575.7px;top:793.4px">48,5/34</div><div class="c" style="left:643.8px;top:793.4px">49/34,5</div><div class="c" style="left:711.8px;top:793.4px">49,5/35</div><div class="c" style="left:782.5px;top:793.4px">50/35,5</div><div class="c" style="left:851.0px;top:793.4px">50,5/36</div><div class="c" style="left:919.4px;top:793.4px">51/36,5</div><div class="c" style="left:987.5px;top:793.4px">51,5/37</div><div class="c" style="left:1056.0px;top:793.4px">52/37,5</div><div class="c" style="left:1123.8px;top:793.4px">52,5/38</div>
<div class="r" style="top:806.5px">M</div><div class="c" style="left:302.2px;top:806.6px">46,5/33,2</div><div class="c" style="left:370.7px;top:806.6px">47/33,7</div><div class="c" style="left:438.8px;top:806.6px">47,5/34,3</div><div class="c" style="left:506.9px;top:806.6px">48/34,8</div><div class="c" style="left:575.7px;top:806.6px">48,5/35,3</div><div class="c" style="left:643.8px;top:806.6px">49/35,8</div><div class="c" style="left:711.8px;top:806.6px">49,5/36,3</div><div class="c" style="left:782.5px;top:806.6px">50/36,8</div><div class="c" style="left:851.0px;top:806.6px">50,5/37,3</div><div class="c" style="left:919.4px;top:806.6px">51/37,8</div><div class="c" style="left:987.5px;top:806.6px">51,5/38,3</div><div class="c" style="left:1056.0px;top:806.6px">52/38,8</div><div class="c" style="left:1123.8px;top:806.6px">52,5/39,3</div>
<div class="r" style="top:819.8px">L</div><div class="c" style="left:302.2px;top:819.9px">46,5/35</div><div class="c" style="left:370.7px;top:819.9px">47/35,5</div><div class="c" style="left:438.8px;top:819.9px">47,5/36</div><div class="c" style="left:506.9px;top:819.9px">48/36,5</div><div class="c" style="left:575.7px;top:819.9px">48,5/37</div><div class="c" style="left:643.8px;top:819.9px">49/37,5</div><div class="c" style="left:711.8px;top:819.9px">49,5/38</div><div class="c" style="left:782.5px;top:819.9px">50/38,5</div><div class="c" style="left:851.0px;top:819.9px">50,5/39</div><div class="c" style="left:919.4px;top:819.9px">51/39,5</div><div class="c" style="left:987.5px;top:819.9px">51,5/40</div><div class="c" style="left:1056.0px;top:819.9px">52/40,5</div><div class="c" style="left:1123.8px;top:819.9px">52,5/41</div>
<div class="r" style="top:833.0px">XL</div><div class="c" style="left:302.2px;top:833.1px">46,5/36,7</div><div class="c" style="left:370.7px;top:833.1px">47/37,2</div><div class="c" style="left:438.8px;top:833.1px">47,5/37,7</div><div class="c" style="left:506.9px;top:833.1px">48/38,2</div><div class="c" style="left:575.7px;top:833.1px">48,5/38,7</div><div class="c" style="left:643.8px;top:833.1px">49/39,2</div><div class="c" style="left:711.8px;top:833.1px">49,5/39,7</div><div class="c" style="left:782.5px;top:833.1px">50/40,2</div><div class="c" style="left:851.0px;top:833.1px">50,5/40,7</div><div class="c" style="left:919.4px;top:833.1px">51/41,2</div><div class="c" style="left:987.5px;top:833.1px">51,5/41,7</div><div class="c" style="left:1056.0px;top:833.1px">52/42,2</div><div class="c" style="left:1123.8px;top:833.1px">52,5/42,7</div>
<div class="r" style="top:846.3px">XXL</div><div class="c" style="left:302.2px;top:846.4px">46,5/38,2</div><div class="c" style="left:370.7px;top:846.4px">47/38,7</div><div class="c" style="left:438.8px;top:846.4px">47,5/39,2</div><div class="c" style="left:506.9px;top:846.4px">48/39,7</div><div class="c" style="left:575.7px;top:846.4px">48,5/40,2</div><div class="c" style="left:643.8px;top:846.4px">49/40,7</div><div class="c" style="left:711.8px;top:846.4px">49,5/41,2</div><div class="c" style="left:782.5px;top:846.4px">50/41,7</div><div class="c" style="left:851.0px;top:846.4px">50,5/42,2</div><div class="c" style="left:919.4px;top:846.4px">51/42,7</div><div class="c" style="left:987.5px;top:846.4px">51,5/43,2</div><div class="c" style="left:1056.0px;top:846.4px">52/43,7</div><div class="c" style="left:1123.8px;top:846.4px">52,5/44,2</div>
<div class="abs" id="ne" style="left:238.0px;top:262.0px;width:0;height:0"><div style="position:absolute;left:-100px;top:-30px;width:200px;height:60px;line-height:60px;text-align:center;font-size:14.6px;font-weight:bold;transform:rotate(90deg) scaleX(0.935);white-space:nowrap;color:#111;-webkit-text-stroke:.3px #111">NEW EXTRA</div></div>
<div class="abs" id="sh" style="left:217.4px;top:262.0px;width:0;height:0"><div style="position:absolute;left:-100px;top:-30px;width:200px;height:60px;line-height:60px;text-align:center;font-size:14.6px;font-weight:bold;transform:rotate(90deg) scaleX(0.935);white-space:nowrap;color:#111;-webkit-text-stroke:.3px #111">SHORT</div></div>
<div class="abs" id="bM1" style="left:226.1px;top:529.2px;width:0;height:0"><div style="position:absolute;left:-40px;top:-30px;width:80px;height:60px;line-height:60px;text-align:center;font-size:40.2px;-webkit-text-stroke:.45px #111;transform:rotate(90deg) scaleX(1.06);white-space:nowrap;color:#111">M</div></div>
<div class="abs" id="bM2" style="left:226.1px;top:663.8px;width:0;height:0"><div style="position:absolute;left:-40px;top:-30px;width:80px;height:60px;line-height:60px;text-align:center;font-size:40.2px;-webkit-text-stroke:.45px #111;transform:rotate(90deg) scaleX(1.06);white-space:nowrap;color:#111">M</div></div>
<div class="abs" id="bA1" style="left:226.1px;top:695.0px;width:0;height:0"><div style="position:absolute;left:-40px;top:-30px;width:80px;height:60px;line-height:60px;text-align:center;font-size:40.2px;-webkit-text-stroke:.45px #111;transform:rotate(90deg) scaleX(0.86);white-space:nowrap;color:#111">A</div></div>
<div class="abs" id="bA2" style="left:226.1px;top:812.9px;width:0;height:0"><div style="position:absolute;left:-40px;top:-30px;width:80px;height:60px;line-height:60px;text-align:center;font-size:40.2px;-webkit-text-stroke:.45px #111;transform:rotate(90deg) scaleX(0.86);white-space:nowrap;color:#111">A</div></div>
<svg class="abs" style="left:227.1px;top:404.8px;overflow:visible" width="1" height="1"><path d="M-10.0,9.6 Q-12.8,5.6 -12.7,1.6 C-12.7,-5.2 -6.6,-7.9 0,-7.9 C6.6,-7.9 12.7,-5.2 12.7,1.6 Q12.8,5.6 10.0,9.6" fill="none" stroke="#111" stroke-width="3.25"/></svg>
<svg class="abs" style="left:227.1px;top:560.2px;overflow:visible" width="1" height="1"><path d="M-10.0,9.6 Q-12.8,5.6 -12.7,1.6 C-12.7,-5.2 -6.6,-7.9 0,-7.9 C6.6,-7.9 12.7,-5.2 12.7,1.6 Q12.8,5.6 10.0,9.6" fill="none" stroke="#111" stroke-width="3.25"/></svg>
<div class="abs ln" style="top:950px"></div>
<div class="abs" style="left:0;top:954px;width:1445px;height:1px;background:#8e8e8e"></div><div class="abs bot"></div>
<div class="abs" style="left:22px;top:962px;width:96px;height:57px;background:#585853"></div>
<div class="abs" style="left:1326px;top:962px;width:99px;height:57px;background:#585853"></div>
<div class="abs" id="foot" style="left:1014px;top:981.6px;font-size:9.3px;line-height:14px;color:#dedede;-webkit-text-stroke:.2px #dedede;letter-spacing:0.4px;word-spacing:0px">BE CREATIVE,&nbsp; BE ORIGINAL</div>
</div></body></html>
